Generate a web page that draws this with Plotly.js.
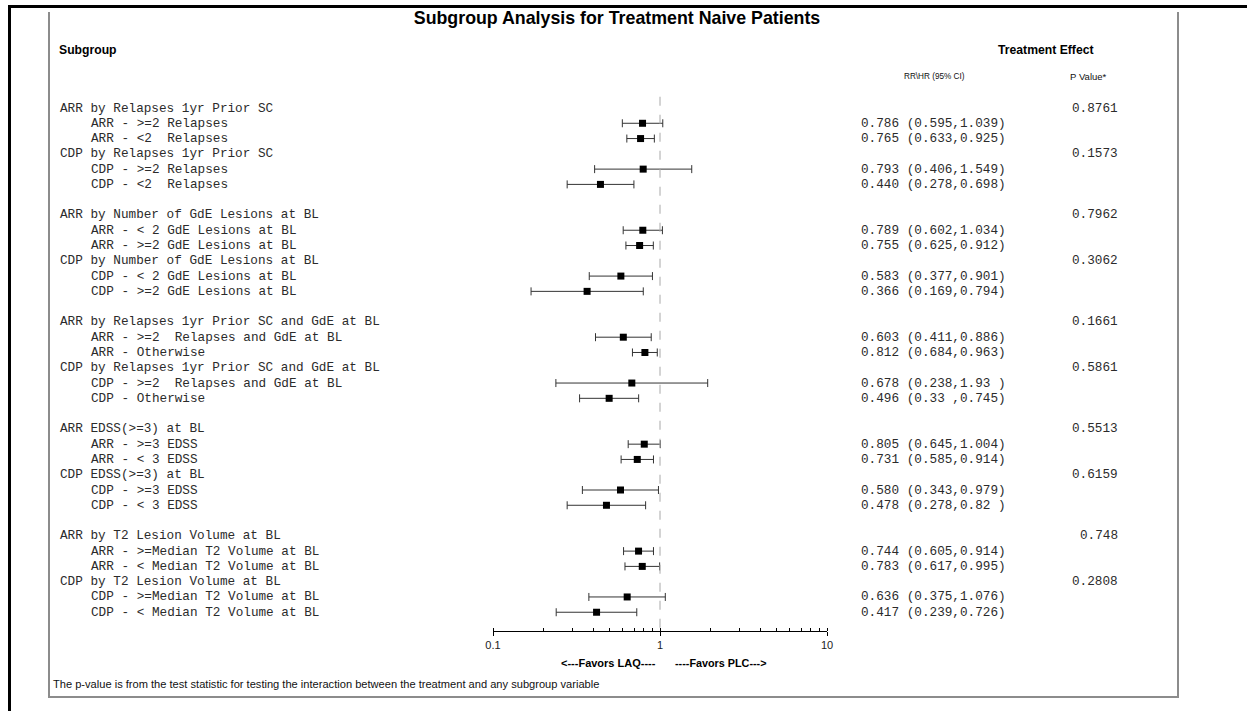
<!DOCTYPE html>
<html>
<head>
<meta charset="utf-8">
<script src="https://cdn.plot.ly/plotly-3.0.1.min.js"></script>
<style>
  html, body { margin: 0; padding: 0; background: #ffffff; }
  #chart { width: 1247px; height: 711px; }
</style>
</head>
<body>
<div id="chart"></div>
<script>
// ---------------- DATA ----------------
const chartTitle = "Subgroup Analysis for Treatment Naive Patients";

const headerLabels = [
  "ARR by Relapses 1yr Prior SC",
  "CDP by Relapses 1yr Prior SC",
  "ARR by Number of GdE Lesions at BL",
  "CDP by Number of GdE Lesions at BL",
  "ARR by Relapses 1yr Prior SC and GdE at BL",
  "CDP by Relapses 1yr Prior SC and GdE at BL",
  "ARR EDSS(>=3) at BL",
  "CDP EDSS(>=3) at BL",
  "ARR by T2 Lesion Volume at BL",
  "CDP by T2 Lesion Volume at BL"
];

const pValues = ["0.8761", "0.1573", "0.7962", "0.3062", "0.1661", "0.5861", "0.5513", "0.6159", "0.748", "0.2808"];

const subgroupLabels = [
  "ARR - >=2 Relapses",
  "ARR - <2  Relapses",
  "CDP - >=2 Relapses",
  "CDP - <2  Relapses",
  "ARR - < 2 GdE Lesions at BL",
  "ARR - >=2 GdE Lesions at BL",
  "CDP - < 2 GdE Lesions at BL",
  "CDP - >=2 GdE Lesions at BL",
  "ARR - >=2  Relapses and GdE at BL",
  "ARR - Otherwise",
  "CDP - >=2  Relapses and GdE at BL",
  "CDP - Otherwise",
  "ARR - >=3 EDSS",
  "ARR - < 3 EDSS",
  "CDP - >=3 EDSS",
  "CDP - < 3 EDSS",
  "ARR - >=Median T2 Volume at BL",
  "ARR - < Median T2 Volume at BL",
  "CDP - >=Median T2 Volume at BL",
  "CDP - < Median T2 Volume at BL"
];

const estimates = [0.786, 0.765, 0.793, 0.440, 0.789, 0.755, 0.583, 0.366, 0.603, 0.812,
                   0.678, 0.496, 0.805, 0.731, 0.580, 0.478, 0.744, 0.783, 0.636, 0.417];
const lowerCI   = [0.595, 0.633, 0.406, 0.278, 0.602, 0.625, 0.377, 0.169, 0.411, 0.684,
                   0.238, 0.33,  0.645, 0.585, 0.343, 0.278, 0.605, 0.617, 0.375, 0.239];
const upperCI   = [1.039, 0.925, 1.549, 0.698, 1.034, 0.912, 0.901, 0.794, 0.886, 0.963,
                   1.93,  0.745, 1.004, 0.914, 0.979, 0.82,  0.914, 0.995, 1.076, 0.726];

const ciTexts = [
  "0.786 (0.595,1.039)", "0.765 (0.633,0.925)", "0.793 (0.406,1.549)", "0.440 (0.278,0.698)",
  "0.789 (0.602,1.034)", "0.755 (0.625,0.912)", "0.583 (0.377,0.901)", "0.366 (0.169,0.794)",
  "0.603 (0.411,0.886)", "0.812 (0.684,0.963)", "0.678 (0.238,1.93 )", "0.496 (0.33 ,0.745)",
  "0.805 (0.645,1.004)", "0.731 (0.585,0.914)", "0.580 (0.343,0.979)", "0.478 (0.278,0.82 )",
  "0.744 (0.605,0.914)", "0.783 (0.617,0.995)", "0.636 (0.375,1.076)", "0.417 (0.239,0.726)"
];

const tickValues = [0.1, 1, 10];
const tickLabels = ["0.1", "1", "10"];
const referenceValue = [1];

const columnTitles = ["Subgroup", "Treatment Effect", "RR\\HR (95% CI)", "P Value*"];
const favorLabels = ["<---Favors LAQ----", "----Favors PLC--->"];
const footnote = "The p-value is from the test statistic for testing the interaction between the treatment and any subgroup variable";

// ---------------- LAYOUT HELPERS ----------------
const W = 1247, H = 711;
const PL = 493, PR = 827, PT = 88, PB = 631;   // plot area in pixels
const ROW0 = 108.0, ROWSTEP = 15.28;            // first row centre and row pitch
const px = v => (v - PL) / (PR - PL);
const py = v => (PB - v) / (PB - PT);

const esc = s => s.replace(/&/g, '&amp;').replace(/</g, '&lt;').replace(/>/g, '&gt;').replace(/ /g, '\u00A0');

const headerRow = h => Math.floor(h / 2) * 7 + (h % 2) * 3;
const subRow = s => headerRow(Math.floor(s / 2)) + 1 + (s % 2);

const SANS = "Liberation Sans, Arial, Helvetica, sans-serif";
const mono = { family: "Liberation Mono, DejaVu Sans Mono, monospace", size: 12.7, color: "#2b2b2b" };
const sansBold = { family: SANS, size: 12.2, color: "#000", weight: "bold" };

const annotations = [];
function addAnn(text, x, xref, y, yref, xanchor, font) {
  annotations.push({ text: text, x: x, xref: xref, y: y, yref: yref, xanchor: xanchor, yanchor: 'middle',
                     showarrow: false, font: font, borderpad: 0 });
}

headerLabels.forEach((t, h) => {
  addAnn(esc(t), px(59), 'paper', -headerRow(h), 'y', 'left', mono);
  addAnn(esc(pValues[h]), px(1119), 'paper', -headerRow(h), 'y', 'right', mono);
});
subgroupLabels.forEach((t, s) => {
  addAnn(esc(t), px(90), 'paper', -subRow(s), 'y', 'left', mono);
  addAnn(esc(ciTexts[s]), px(860), 'paper', -subRow(s), 'y', 'left', mono);
});

addAnn(esc(columnTitles[0]), px(58), 'paper', py(50), 'paper', 'left', sansBold);
addAnn(esc(columnTitles[1]), px(997), 'paper', py(50), 'paper', 'left', sansBold);
addAnn(esc(columnTitles[2]), px(903), 'paper', py(77), 'paper', 'left', { family: SANS, size: 8.2, color: "#111" });
addAnn(esc(columnTitles[3]), px(1069), 'paper', py(77), 'paper', 'left', { family: SANS, size: 9.5, color: "#111" });
addAnn(esc(favorLabels[0]), px(657), 'paper', py(663), 'paper', 'right',
       { family: SANS, size: 11, color: "#000", weight: "bold" });
addAnn(esc(favorLabels[1]), px(674), 'paper', py(663), 'paper', 'left',
       { family: SANS, size: 10.8, color: "#000", weight: "bold" });
addAnn(esc(footnote), px(52), 'paper', py(684), 'paper', 'left',
       { family: SANS, size: 11.1, color: "#111" });

const rowsY = subgroupLabels.map((_, s) => -subRow(s));

const trace = {
  type: 'scatter',
  mode: 'markers',
  x: estimates,
  y: rowsY,
  marker: { symbol: 'square', size: 7, color: '#000' },
  error_x: {
    type: 'data', symmetric: false,
    array: upperCI.map((u, i) => u - estimates[i]),
    arrayminus: lowerCI.map((l, i) => estimates[i] - l),
    color: '#333', thickness: 1, width: 4
  },
  cliponaxis: false,
  hoverinfo: 'skip'
};

// page frame lines (decoration, in paper coordinates)
function frameLine(x0, y0, x1, y1, color, width) {
  return { type: 'line', xref: 'paper', yref: 'paper', layer: 'above',
           x0: px(x0), x1: px(x1), y0: py(y0), y1: py(y1),
           line: { color: color, width: width } };
}
const frameShapes = [
  frameLine(8, 6.5, 1247, 6.5, '#000', 3),
  frameLine(9.5, 5, 9.5, 711, '#000', 3),
  frameLine(49, 12, 49, 697, '#8c8c8c', 2),
  frameLine(1178, 12, 1178, 697, '#8c8c8c', 2),
  frameLine(48, 697, 1179, 697, '#8c8c8c', 2)
];

const layout = {
  width: W, height: H,
  margin: { l: PL, r: W - PR, t: PT, b: H - PB, pad: 0 },
  paper_bgcolor: '#ffffff',
  plot_bgcolor: 'rgba(0,0,0,0)',
  showlegend: false,
  hovermode: false,
  title: {
    text: chartTitle,
    x: 617 / W, xanchor: 'center', xref: 'container',
    y: 1 - 18 / H, yanchor: 'middle', yref: 'container',
    font: { family: SANS, size: 17.8, color: '#000', weight: 'bold' }
  },
  xaxis: {
    type: 'log', range: [-1, 1], autorange: false,
    tickmode: 'array', tickvals: tickValues, ticktext: tickLabels,
    ticks: 'outside', ticklen: 4, tickwidth: 1, tickcolor: '#000',
    showline: true, linecolor: '#000', linewidth: 1,
    showgrid: false, zeroline: false,
    tickfont: { family: SANS, size: 11, color: '#222' },
    minor: { ticks: 'inside', ticklen: 3, tickcolor: '#000', tickwidth: 1, dtick: 'D1', showgrid: false },
    fixedrange: true
  },
  yaxis: {
    range: [-(PB - ROW0) / ROWSTEP, (ROW0 - PT) / ROWSTEP], autorange: false,
    visible: false, showgrid: false, zeroline: false, fixedrange: true
  },
  shapes: [{
    type: 'line', xref: 'x', yref: 'paper',
    x0: referenceValue[0], x1: referenceValue[0], y0: 0.006, y1: 1,
    line: { color: '#a8a8a8', width: 1, dash: 'dash' }
  }].concat(frameShapes),
  annotations: annotations
};

Plotly.newPlot('chart', [trace], layout, { staticPlot: true, displayModeBar: false });
</script>
</body>
</html>
